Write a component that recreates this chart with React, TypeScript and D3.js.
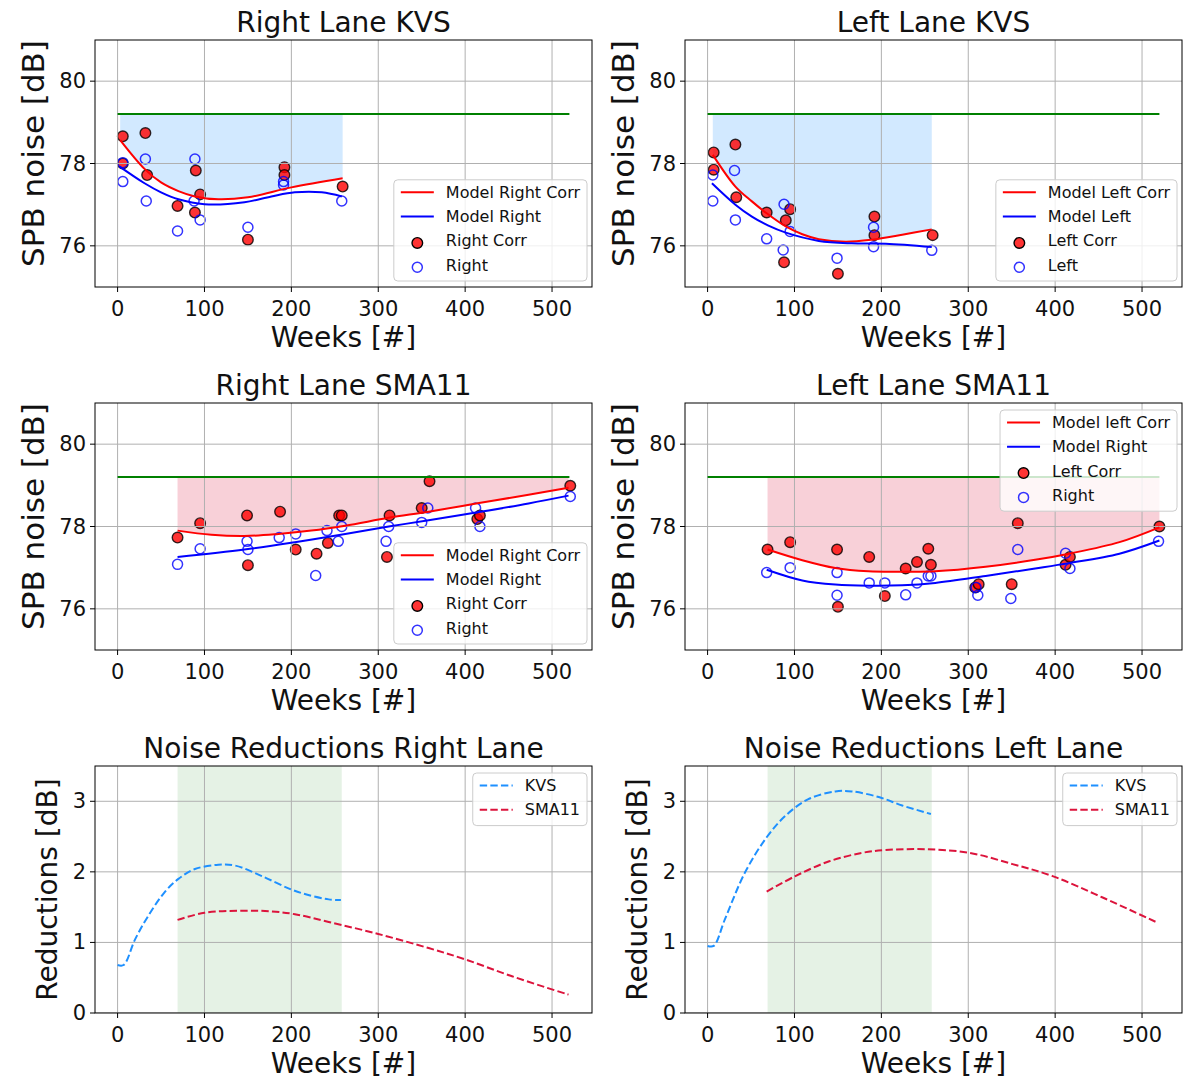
import React from 'react'
import * as d3 from 'd3'

// ---------- shared axis data ----------
const weekTicks = [0, 100, 200, 300, 400, 500]
const noiseTicks = [76, 78, 80]
const reductionTicks = [0, 1, 2, 3]
const referenceLevel = 79.2
const referenceWeeks = [0, 520]
const kvsPeriod = [69, 258]

// ---------- Right Lane KVS ----------
const kvsRightCorrWeeks = [6, 6, 32, 34, 69, 90, 89, 95, 150, 192, 192, 259]
const kvsRightCorr = [78.66, 78.0, 78.74, 77.72, 76.97, 77.83, 76.81, 77.25, 76.15, 77.91, 77.72, 77.44]
const kvsRightWeeks = [6, 6, 32, 33, 69, 89, 88, 95, 150, 191, 191, 258]
const kvsRight = [77.56, 78.02, 78.11, 77.09, 76.36, 78.11, 77.09, 76.63, 76.45, 77.56, 77.48, 77.09]
const kvsRightModelCorrWeeks = [3, 31, 50, 70, 89, 116, 150, 200, 259]
const kvsRightModelCorr = [78.57, 77.87, 77.54, 77.33, 77.2, 77.13, 77.18, 77.42, 77.64]
const kvsRightModelWeeks = [2, 31, 50, 70, 100, 146, 177, 204, 235, 258]
const kvsRightModel = [77.93, 77.52, 77.3, 77.13, 77.01, 77.06, 77.2, 77.3, 77.3, 77.2]

// ---------- Left Lane KVS ----------
const kvsLeftCorrWeeks = [7, 7, 32, 33, 68, 90, 95, 88, 150, 192, 192, 259]
const kvsLeftCorr = [78.27, 77.85, 78.46, 77.18, 76.81, 76.62, 76.89, 75.6, 75.32, 76.71, 76.26, 76.26]
const kvsLeftWeeks = [6, 6, 31, 32, 68, 88, 87, 95, 149, 191, 191, 258]
const kvsLeft = [77.72, 77.09, 77.83, 76.63, 76.17, 77.01, 75.9, 76.35, 75.7, 76.45, 75.98, 75.89]
const kvsLeftModelCorrWeeks = [6, 32, 51, 68, 90, 109, 128, 159, 189, 224, 258]
const kvsLeftModelCorr = [78.21, 77.44, 77.08, 76.79, 76.47, 76.28, 76.16, 76.1, 76.15, 76.27, 76.4]
const kvsLeftModelWeeks = [5, 32, 51, 70, 90, 128, 166, 205, 258]
const kvsLeftModel = [77.52, 77.0, 76.71, 76.49, 76.32, 76.12, 76.06, 76.05, 75.97]

// ---------- Right Lane SMA11 ----------
const smaRightCorrWeeks = [69, 95, 149, 150, 187, 205, 229, 242, 255, 258, 310, 313, 350, 359, 414, 417, 521]
const smaRightCorr = [77.73, 78.08, 78.27, 77.06, 78.36, 77.44, 77.34, 77.6, 78.27, 78.27, 77.26, 78.27, 78.45, 79.1, 78.18, 78.27, 78.99]
const smaRightWeeks = [69, 95, 149, 150, 186, 205, 228, 241, 254, 258, 309, 312, 350, 357, 412, 417, 521]
const smaRight = [77.08, 77.46, 77.64, 77.44, 77.73, 77.82, 76.81, 77.9, 77.64, 78.0, 77.64, 78.0, 78.1, 78.45, 78.45, 78.0, 78.73]
const smaRightModelCorrWeeks = [69, 108, 146, 185, 223, 262, 312, 358, 416, 473, 519]
const smaRightModelCorr = [77.9, 77.8, 77.77, 77.82, 77.9, 78.02, 78.21, 78.36, 78.57, 78.77, 78.94]
const smaRightModelWeeks = [69, 146, 204, 262, 312, 358, 416, 473, 519]
const smaRightModel = [77.26, 77.44, 77.62, 77.82, 78.0, 78.15, 78.35, 78.56, 78.75]

// ---------- Left Lane SMA11 ----------
const smaLeftCorrWeeks = [69, 95, 149, 186, 204, 150, 228, 241, 254, 257, 308, 312, 350, 357, 412, 417, 520]
const smaLeftCorr = [77.44, 77.62, 77.44, 77.26, 76.31, 76.05, 76.98, 77.14, 77.46, 77.07, 76.52, 76.6, 76.6, 78.08, 77.07, 77.26, 78.0]
const smaLeftWeeks = [68, 95, 149, 149, 186, 204, 228, 241, 254, 257, 309, 311, 349, 357, 412, 417, 519]
const smaLeft = [76.88, 77.0, 76.88, 76.33, 76.63, 76.63, 76.34, 76.63, 76.8, 76.8, 76.52, 76.33, 76.25, 77.44, 77.35, 76.98, 77.64]
const smaLeftModelCorrWeeks = [69, 109, 147, 185, 224, 262, 320, 377, 416, 474, 520]
const smaLeftModelCorr = [77.44, 77.18, 76.99, 76.91, 76.9, 76.91, 77.02, 77.19, 77.34, 77.62, 77.98]
const smaLeftModelWeeks = [68, 109, 147, 185, 224, 262, 320, 377, 416, 474, 520]
const smaLeftModel = [76.95, 76.69, 76.59, 76.56, 76.57, 76.63, 76.8, 76.98, 77.11, 77.34, 77.66]

// ---------- Noise reductions ----------
const redRightKvsWeeks = [0, 7, 20, 35, 54, 70, 89, 116, 135, 166, 200, 223, 243, 257]
const redRightKvs = [0.68, 0.68, 1.04, 1.37, 1.71, 1.9, 2.04, 2.1, 2.09, 1.94, 1.75, 1.66, 1.61, 1.6]
const redRightSmaWeeks = [69, 100, 146, 177, 204, 243, 300, 358, 400, 454, 519]
const redRightSma = [1.32, 1.42, 1.45, 1.44, 1.4, 1.29, 1.12, 0.92, 0.76, 0.52, 0.26]
const redLeftKvsWeeks = [0, 7, 20, 43, 68, 90, 116, 147, 166, 197, 224, 257]
const redLeftKvs = [0.95, 0.95, 1.33, 1.99, 2.49, 2.8, 3.03, 3.14, 3.14, 3.06, 2.94, 2.82]
const redLeftSmaWeeks = [68, 101, 140, 178, 205, 251, 301, 351, 397, 454, 516]
const redLeftSma = [1.72, 1.94, 2.15, 2.27, 2.31, 2.32, 2.27, 2.11, 1.94, 1.64, 1.29]

// ---------- layout ----------
const FONT = '"DejaVu Sans", sans-serif'
const AW = 497
const AH = 247
const colLeft = [95, 685]
const rowTop = [40, 403, 766]

type Pt = [number, number]
const zip = (xs: number[], ys: number[]): Pt[] => xs.map((x, i) => [x, ys[i]])

type Entry = { label: string; kind: 'line' | 'dash' | 'dot' | 'ring'; color: string }

function textWidth(text: string, size: number) {
  const ctx = document.createElement('canvas').getContext('2d')
  if (!ctx) return text.length * size * 0.6
  ctx.font = `${size}px "DejaVu Sans"`
  return ctx.measureText(text).width
}

const x = d3.scaleLinear().domain([-26, 546]).range([0, AW])
const yNoise = d3.scaleLinear().domain([75, 81]).range([AH, 0])
const yRed = d3.scaleLinear().domain([0, 3.5]).range([AH, 0])
const smooth = d3.curveCatmullRom.alpha(0.5)

function Legend({ entries, corner }: { entries: Entry[]; corner: 'lower' | 'upper' }) {
  const tw = d3.max(entries, (e) => textWidth(e.label, 16)) || 0
  const bw = 52 + tw + 7
  const bh = entries.length * 24.3 + 4
  const lx = AW - 5 - bw
  const ly = corner === 'lower' ? AH - 6 - bh : 7
  return (
    <g transform={`translate(${lx},${ly})`}>
      <rect width={bw} height={bh} rx={4} fill="white" fillOpacity={0.8} stroke="#cccccc" strokeWidth={1} />
      {entries.map((e, i) => {
        const cy = 12.5 + i * 24.3
        return (
          <g key={e.label}>
            {e.kind === 'line' && <line x1={7} x2={40} y1={cy} y2={cy} stroke={e.color} strokeWidth={2} />}
            {e.kind === 'dash' && (
              <line x1={7} x2={40} y1={cy} y2={cy} stroke={e.color} strokeWidth={2} strokeDasharray="7.4 3.2" />
            )}
            {e.kind === 'dot' && (
              <circle cx={23.5} cy={cy + 2} r={5.3} fill={e.color} fillOpacity={0.8} stroke="black" strokeWidth={1.4} />
            )}
            {e.kind === 'ring' && (
              <circle cx={23.5} cy={cy + 2} r={5} fill="none" stroke={e.color} strokeOpacity={0.8} strokeWidth={1.5} />
            )}
            <text x={52} y={cy} dominantBaseline="central" fontSize={16} fontFamily={FONT} fill="#111">
              {e.label}
            </text>
          </g>
        )
      })}
    </g>
  )
}

type PanelProps = {
  col: number
  row: number
  title: string
  ylabel: string
  ylabelSize: number
  ylabelShift: number
  y: d3.ScaleLinear<number, number>
  yTicks: number[]
  ylabelX: number
  area?: { pts: Pt[]; color: string }
  span?: number[]
  lines: { pts: Pt[]; color: string; dashed?: boolean }[]
  dots: { pts: Pt[]; kind: 'dot' | 'ring'; color: string }[]
  legend: Entry[]
  corner: 'lower' | 'upper'
  reference?: boolean
}

function Panel(p: PanelProps) {
  const left = colLeft[p.col]
  const top = rowTop[p.row]
  const clipId = `clip-${p.col}-${p.row}`
  const line = d3
    .line<Pt>()
    .x((d) => x(d[0]))
    .y((d) => p.y(d[1]))
    .curve(smooth)
  const area = d3
    .area<Pt>()
    .x((d) => x(d[0]))
    .y0(p.y(referenceLevel))
    .y1((d) => p.y(d[1]))
    .curve(smooth)
  return (
    <g transform={`translate(${left},${top})`}>
      <defs>
        <clipPath id={clipId}>
          <rect width={AW} height={AH} />
        </clipPath>
      </defs>
      <g clipPath={`url(#${clipId})`}>
        {p.area && <path d={area(p.area.pts) || ''} fill={p.area.color} fillOpacity={0.2} />}
        {p.span && (
          <rect x={x(p.span[0])} width={x(p.span[1]) - x(p.span[0])} y={0} height={AH} fill="green" fillOpacity={0.1} />
        )}
        {p.dots.map((s, si) =>
          s.pts.map((d, i) =>
            s.kind === 'dot' ? (
              <circle key={`${si}-${i}`} cx={x(d[0])} cy={p.y(d[1])} r={5.3} fill={s.color} fillOpacity={0.8}
                stroke="black" strokeOpacity={0.8} strokeWidth={1.4} />
            ) : (
              <circle key={`${si}-${i}`} cx={x(d[0])} cy={p.y(d[1])} r={5} fill="none" stroke={s.color}
                strokeOpacity={0.8} strokeWidth={1.5} />
            )
          )
        )}
        {weekTicks.map((t) => (
          <line key={`gx${t}`} x1={x(t)} x2={x(t)} y1={0} y2={AH} stroke="#b0b0b0" strokeWidth={1} />
        ))}
        {p.yTicks.map((t) => (
          <line key={`gy${t}`} x1={0} x2={AW} y1={p.y(t)} y2={p.y(t)} stroke="#b0b0b0" strokeWidth={1} />
        ))}
        {p.reference && (
          <line x1={x(referenceWeeks[0])} x2={x(referenceWeeks[1])} y1={p.y(referenceLevel)} y2={p.y(referenceLevel)}
            stroke="green" strokeWidth={2} />
        )}
        {p.lines.map((l, i) => (
          <path key={i} d={line(l.pts) || ''} fill="none" stroke={l.color} strokeWidth={2}
            strokeDasharray={l.dashed ? '7.4 3.2' : undefined} />
        ))}
      </g>
      <rect width={AW} height={AH} fill="none" stroke="black" strokeWidth={1} />
      {weekTicks.map((t) => (
        <g key={`tx${t}`} transform={`translate(${x(t)},${AH})`}>
          <line y2={5} stroke="black" strokeWidth={1} />
          <text y={29} textAnchor="middle" fontSize={21} fontFamily={FONT} fill="#111">{t}</text>
        </g>
      ))}
      {p.yTicks.map((t) => (
        <g key={`ty${t}`} transform={`translate(0,${p.y(t)})`}>
          <line x2={-5} stroke="black" strokeWidth={1} />
          <text x={-9} textAnchor="end" dominantBaseline="central" fontSize={21} fontFamily={FONT} fill="#111">{t}</text>
        </g>
      ))}
      <text x={AW / 2} y={-8} textAnchor="middle" fontSize={28} fontFamily={FONT} fill="#111">{p.title}</text>
      <text x={AW / 2} y={AH + 60} textAnchor="middle" fontSize={28} fontFamily={FONT} fill="#111">Weeks [#]</text>
      <text transform={`translate(${p.ylabelX},${AH / 2 + p.ylabelShift}) rotate(-90)`} textAnchor="middle"
        dominantBaseline="central" fontSize={p.ylabelSize} fontFamily={FONT} fill="#111">{p.ylabel}</text>
      <Legend entries={p.legend} corner={p.corner} />
    </g>
  )
}

export default function App() {
  const noiseLegend = (a: string, b: string, c: string, d: string): Entry[] => [
    { label: a, kind: 'line', color: 'red' },
    { label: b, kind: 'line', color: 'blue' },
    { label: c, kind: 'dot', color: 'red' },
    { label: d, kind: 'ring', color: 'blue' },
  ]
  const redLegend: Entry[] = [
    { label: 'KVS', kind: 'dash', color: 'dodgerblue' },
    { label: 'SMA11', kind: 'dash', color: 'crimson' },
  ]
  const spb = { ylabel: 'SPB noise [dB]', ylabelSize: 31, ylabelShift: -10, ylabelX: -62, y: yNoise, yTicks: noiseTicks }
  const red = { ylabel: 'Reductions [dB]', ylabelSize: 28, ylabelShift: 0, ylabelX: -48, y: yRed, yTicks: reductionTicks }
  return (
    <svg width={1185} height={1080} style={{ position: 'absolute', left: 0, top: 0, background: 'white' }}>
      <Panel col={0} row={0} title="Right Lane KVS" {...spb}
        reference area={{ pts: zip(kvsRightModelCorrWeeks, kvsRightModelCorr), color: 'dodgerblue' }}
        lines={[
          { pts: zip(kvsRightModelCorrWeeks, kvsRightModelCorr), color: 'red' },
          { pts: zip(kvsRightModelWeeks, kvsRightModel), color: 'blue' },
        ]}
        dots={[
          { pts: zip(kvsRightCorrWeeks, kvsRightCorr), kind: 'dot', color: 'red' },
          { pts: zip(kvsRightWeeks, kvsRight), kind: 'ring', color: 'blue' },
        ]}
        legend={noiseLegend('Model Right Corr', 'Model Right', 'Right Corr', 'Right')} corner="lower" />
      <Panel col={1} row={0} title="Left Lane KVS" {...spb}
        reference area={{ pts: zip(kvsLeftModelCorrWeeks, kvsLeftModelCorr), color: 'dodgerblue' }}
        lines={[
          { pts: zip(kvsLeftModelCorrWeeks, kvsLeftModelCorr), color: 'red' },
          { pts: zip(kvsLeftModelWeeks, kvsLeftModel), color: 'blue' },
        ]}
        dots={[
          { pts: zip(kvsLeftCorrWeeks, kvsLeftCorr), kind: 'dot', color: 'red' },
          { pts: zip(kvsLeftWeeks, kvsLeft), kind: 'ring', color: 'blue' },
        ]}
        legend={noiseLegend('Model Left Corr', 'Model Left', 'Left Corr', 'Left')} corner="lower" />
      <Panel col={0} row={1} title="Right Lane SMA11" {...spb}
        reference area={{ pts: zip(smaRightModelCorrWeeks, smaRightModelCorr), color: 'crimson' }}
        lines={[
          { pts: zip(smaRightModelCorrWeeks, smaRightModelCorr), color: 'red' },
          { pts: zip(smaRightModelWeeks, smaRightModel), color: 'blue' },
        ]}
        dots={[
          { pts: zip(smaRightCorrWeeks, smaRightCorr), kind: 'dot', color: 'red' },
          { pts: zip(smaRightWeeks, smaRight), kind: 'ring', color: 'blue' },
        ]}
        legend={noiseLegend('Model Right Corr', 'Model Right', 'Right Corr', 'Right')} corner="lower" />
      <Panel col={1} row={1} title="Left Lane SMA11" {...spb}
        reference area={{ pts: zip(smaLeftModelCorrWeeks, smaLeftModelCorr), color: 'crimson' }}
        lines={[
          { pts: zip(smaLeftModelCorrWeeks, smaLeftModelCorr), color: 'red' },
          { pts: zip(smaLeftModelWeeks, smaLeftModel), color: 'blue' },
        ]}
        dots={[
          { pts: zip(smaLeftCorrWeeks, smaLeftCorr), kind: 'dot', color: 'red' },
          { pts: zip(smaLeftWeeks, smaLeft), kind: 'ring', color: 'blue' },
        ]}
        legend={noiseLegend('Model left Corr', 'Model Right', 'Left Corr', 'Right')} corner="upper" />
      <Panel col={0} row={2} title="Noise Reductions Right Lane" {...red} span={kvsPeriod}
        lines={[
          { pts: zip(redRightKvsWeeks, redRightKvs), color: 'dodgerblue', dashed: true },
          { pts: zip(redRightSmaWeeks, redRightSma), color: 'crimson', dashed: true },
        ]}
        dots={[]} legend={redLegend} corner="upper" />
      <Panel col={1} row={2} title="Noise Reductions Left Lane" {...red} span={kvsPeriod}
        lines={[
          { pts: zip(redLeftKvsWeeks, redLeftKvs), color: 'dodgerblue', dashed: true },
          { pts: zip(redLeftSmaWeeks, redLeftSma), color: 'crimson', dashed: true },
        ]}
        dots={[]} legend={redLegend} corner="upper" />
    </svg>
  )
}
